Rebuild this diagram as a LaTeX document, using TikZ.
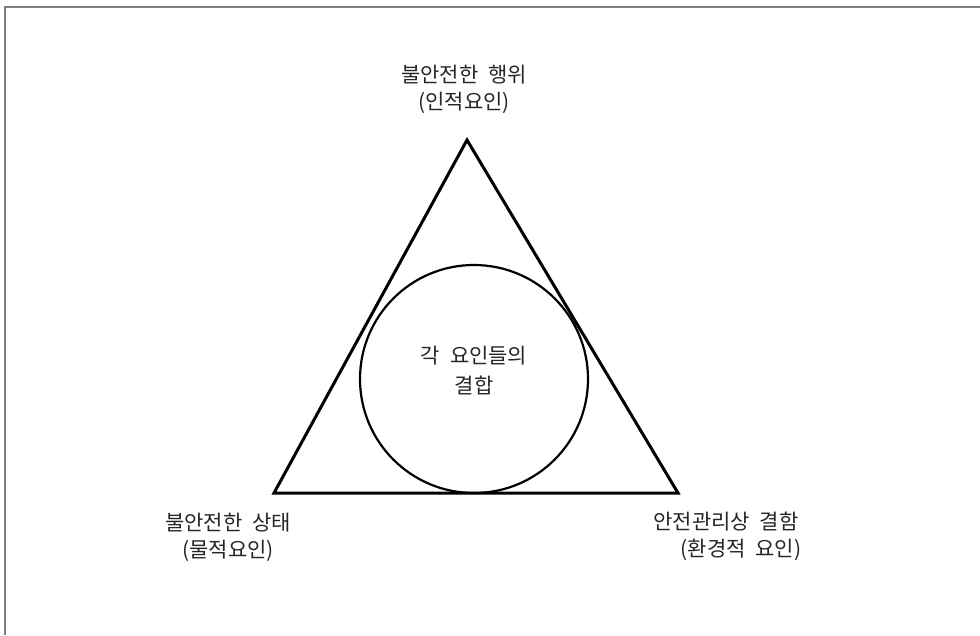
\documentclass[tikz,border=0pt]{standalone}
\usepackage{fontspec}
\setmainfont{Noto Sans CJK KR}
\newcommand{\wsp}{\hspace{10pt}}
\begin{document}
\begin{tikzpicture}[x=1pt,y=-1pt,
  lbl/.style={font=\fontsize{21}{28}\selectfont, text=black!85, inner sep=0pt, align=center}]
\useasboundingbox (0,0) rectangle (980,635);
\fill[white] (0,0) rectangle (980,635);
% frame
\draw[line width=2pt, draw=black!50] (4.5,635) -- (4.5,6.5) -- (980,6.5);
% triangle
\coordinate (A) at (467,140);
\coordinate (B) at (274,493);
\coordinate (C) at (678,493);
\draw[line width=3pt, line join=miter] (A) -- (B) -- (C) -- cycle;
% circle
\node[circle, draw, line width=2.2pt, minimum size=228pt, inner sep=0pt] (circ) at (474,379) {};
\node[lbl] (c1) at (474,356) {각\wsp 요인들의};
\node[lbl] (c2) at (474,385) {결합};
% labels
\node[lbl] (t1) at (464,75) {불안전한\wsp 행위};
\node[lbl] (t2) at (464,103) {(인적요인)};
\node[lbl] (l1) at (228,523) {불안전한\wsp 상태};
\node[lbl] (l2) at (228,551) {(물적요인)};
\node[lbl] (r1) at (726,522) {안전관리상\wsp 결함};
\node[lbl] (r2) at (741,550) {(환경적\wsp 요인)};
\end{tikzpicture}
\end{document}
